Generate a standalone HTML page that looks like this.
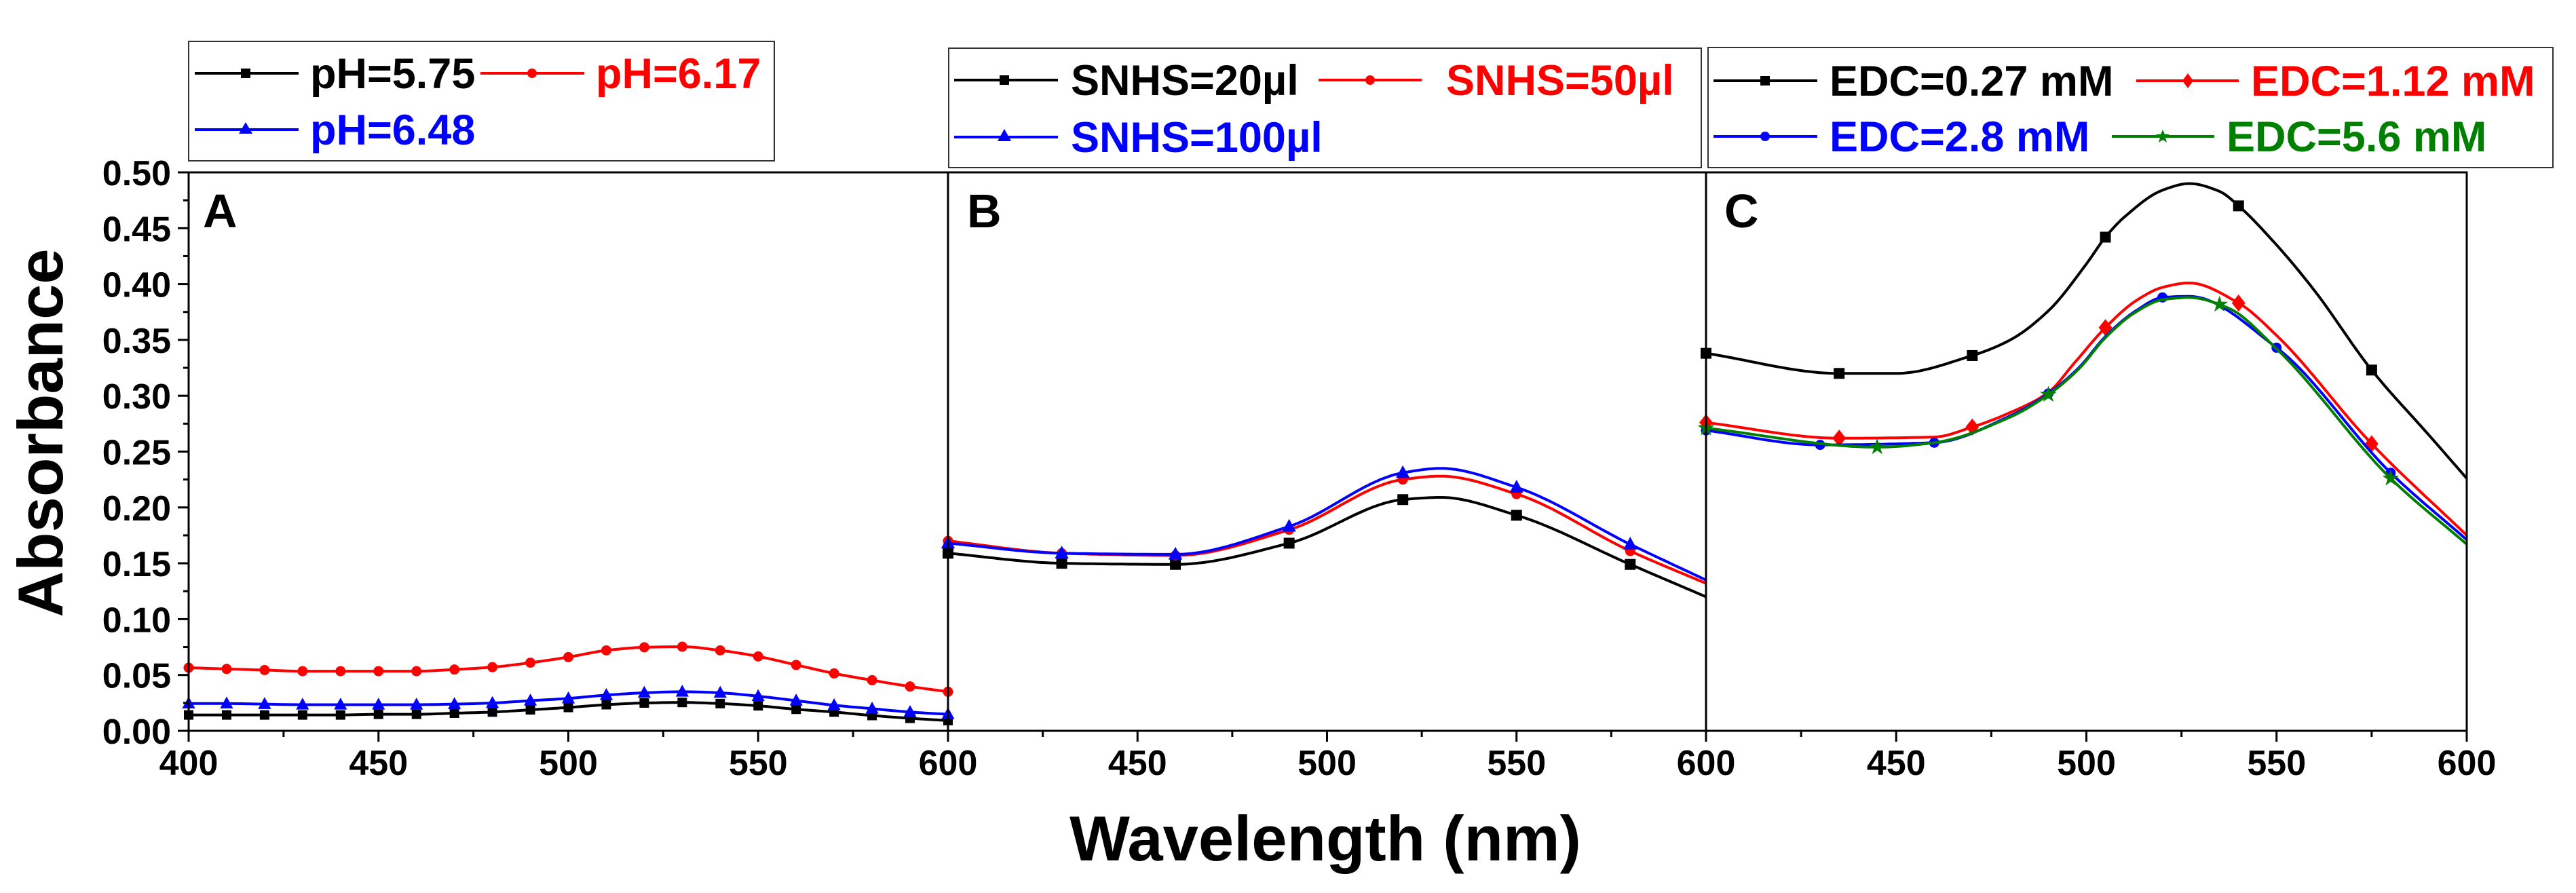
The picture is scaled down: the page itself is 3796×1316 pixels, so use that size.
<!DOCTYPE html>
<html><head><meta charset="utf-8"><style>
html,body{margin:0;padding:0;background:#fff}
svg{display:block}
text{font-family:"Liberation Sans",Arial,sans-serif;font-weight:bold}
</style></head>
<body>
<svg id="chart" width="3796" height="1316" viewBox="0 0 3796 1316" xmlns="http://www.w3.org/2000/svg">
<g id="root"></g>
</svg>
<script>
// ---------- data ----------
const xTicks = [400, 450, 500, 550, 600];
const yTicks = [0.00, 0.05, 0.10, 0.15, 0.20, 0.25, 0.30, 0.35, 0.40, 0.45, 0.50];
const yTickLabels = ["0.00","0.05","0.10","0.15","0.20","0.25","0.30","0.35","0.40","0.45","0.50"];

// Panel A (every 10 nm, 400..600)
const aWave = [400,410,420,430,440,450,460,470,480,490,500,510,520,530,540,550,560,570,580,590,600];
const aPH575 = [0.0142,0.0142,0.0142,0.0142,0.0142,0.0148,0.0148,0.0158,0.0168,0.0188,0.0209,0.0234,0.0249,0.0254,0.0244,0.0224,0.0193,0.0168,0.0137,0.0112,0.0092];
const aPH617 = [0.0565,0.0554,0.0544,0.0534,0.0534,0.0534,0.0534,0.0549,0.0570,0.0610,0.0660,0.0720,0.0748,0.0753,0.0720,0.0666,0.0590,0.0514,0.0453,0.0397,0.0350];
const aPH648 = [0.0244,0.0244,0.0239,0.0234,0.0234,0.0234,0.0234,0.0239,0.0249,0.0270,0.0290,0.0320,0.0340,0.0350,0.0340,0.0310,0.0270,0.0229,0.0198,0.0168,0.0148];

// Panel B
const bWave = [400,430,460,490,520,530,550,580,600];
const bSnhs20 = [0.159,0.150,0.149,0.168,0.207,0.209,0.193,0.149,0.120];
const bSnhs50 = [0.170,0.159,0.157,0.180,0.225,0.228,0.212,0.161,0.132];
const bSnhs100 = [0.168,0.159,0.158,0.183,0.231,0.235,0.218,0.167,0.135];
const bMarkWave = [400,430,460,490,520,550,580];

// Panel C
const cWaveBlack = [400,435,450,470,480,490,500,505,510,520,527,535,540,550,560,575,590,600];
const cEdc027 = [0.338,0.320,0.320,0.336,0.350,0.376,0.418,0.442,0.460,0.484,0.490,0.483,0.470,0.435,0.394,0.323,0.265,0.226];
const cWaveRed = [400,435,460,470,480,490,497,505,513,520,527,540,550,575,600];
const cEdc112 = [0.276,0.262,0.263,0.272,0.285,0.303,0.330,0.361,0.385,0.397,0.401,0.383,0.354,0.257,0.175];
const cWaveBlue = [400,430,460,480,490,498,505,513,520,527,550,580,600];
const cEdc28 = [0.269,0.256,0.258,0.282,0.302,0.325,0.353,0.376,0.388,0.389,0.343,0.231,0.171];
const cWaveGreen = [400,445,460,480,490,498,505,513,520,527,537,550,580,600];
const cEdc56 = [0.271,0.254,0.258,0.281,0.301,0.324,0.352,0.375,0.386,0.388,0.379,0.342,0.226,0.167];
const cMarkBlack = [400,435,470,505,540,575];
const cMarkRed = [400,435,470,505,540,575];
const cMarkBlue = [400,430,460,490,520,550,580];
const cMarkGreen = [400,445,490,535,580];

// ---------- layout ----------
const NS = "http://www.w3.org/2000/svg";
const root = document.getElementById('root');
const TOP = 254, BOT = 1077;
const panels = [{l:278,r:1397},{l:1397,r:2514},{l:2514,r:3635}];
function sx(p, v){ return p.l + (v-400)/200*(p.r-p.l); }
function sy(v){ return BOT - v/0.5*(BOT-TOP); }
function mk(tag, attrs, parent){ const e=document.createElementNS(NS,tag); for(const k in attrs) e.setAttribute(k,attrs[k]); (parent||root).appendChild(e); return e; }

// monotone-ish cubic (Fritsch-Carlson tangents) for smooth curves through points
function interp(xs, ys, x){
  const n=xs.length;
  let i=0; while(i<n-2 && x>xs[i+1]) i++;
  function slope(k){
    if(k===0) return (ys[1]-ys[0])/(xs[1]-xs[0]);
    if(k===n-1) return (ys[n-1]-ys[n-2])/(xs[n-1]-xs[n-2]);
    const d0=(ys[k]-ys[k-1])/(xs[k]-xs[k-1]), d1=(ys[k+1]-ys[k])/(xs[k+1]-xs[k]);
    if(d0*d1<=0) return 0;
    const w0=2*(xs[k+1]-xs[k])+(xs[k]-xs[k-1]), w1=(xs[k+1]-xs[k])+2*(xs[k]-xs[k-1]);
    return (w0+w1)/(w0/d0+w1/d1);
  }
  const h=xs[i+1]-xs[i], t=(x-xs[i])/h, t2=t*t, t3=t2*t;
  const m1=slope(i)*h, m2=slope(i+1)*h;
  return (2*t3-3*t2+1)*ys[i]+(t3-2*t2+t)*m1+(-2*t3+3*t2)*ys[i+1]+(t3-t2)*m2;
}
function curve(p, xs, ys, color, name){
  let d='';
  for(let x=400;x<=600;x+=1){ const px=sx(p,x), py=sy(interp(xs,ys,x)); d+=(x===400?'M':'L')+px.toFixed(1)+' '+py.toFixed(1); }
  const e=mk('path',{d:d,fill:'none',stroke:color,'stroke-width':4,'stroke-linejoin':'round'});
  
  
}
function marker(shape, cx, cy, color, sz, parent){
  let e;
  if(shape==='square') e=mk('rect',{x:cx-sz/2,y:cy-sz/2,width:sz,height:sz,fill:color},parent);
  else if(shape==='circle') e=mk('circle',{cx:cx,cy:cy,r:sz/2,fill:color},parent);
  else if(shape==='triangle') e=mk('polygon',{points:`${cx},${cy-sz*0.65} ${cx-sz*0.6},${cy+sz*0.45} ${cx+sz*0.6},${cy+sz*0.45}`,fill:color},parent);
  else if(shape==='diamond') e=mk('polygon',{points:`${cx},${cy-sz*0.7} ${cx+sz*0.55},${cy} ${cx},${cy+sz*0.7} ${cx-sz*0.55},${cy}`,fill:color},parent);
  else if(shape==='star'){ let pts=''; for(let k=0;k<10;k++){const r=k%2?sz*0.25:sz*0.65; const a=-Math.PI/2+k*Math.PI/5; pts+=(cx+r*Math.cos(a)).toFixed(1)+','+(cy+r*Math.sin(a)).toFixed(1)+' ';} e=mk('polygon',{points:pts,fill:color},parent); }
  
  
  return e;
}
function markers(p, xs, ys, mx, shape, color, sz){
  mx.forEach(x=>marker(shape, sx(p,x), sy(interp(xs,ys,x)), color, sz));
}

// ---------- series ----------
const PA=panels[0], PB=panels[1], PC=panels[2];
curve(PA,aWave,aPH575,'#000','series-ph-5-75'); markers(PA,aWave,aPH575,aWave,'square','#000',14);
curve(PA,aWave,aPH648,'#0000ff','series-ph-6-48'); markers(PA,aWave,aPH648,aWave,'triangle','#0000ff',16);
curve(PA,aWave,aPH617,'#ff0000','series-ph-6-17'); markers(PA,aWave,aPH617,aWave,'circle','#ff0000',15);

curve(PB,bWave,bSnhs20,'#000','series-snhs-20'); markers(PB,bWave,bSnhs20,bMarkWave,'square','#000',16);
curve(PB,bWave,bSnhs50,'#ff0000','series-snhs-50'); markers(PB,bWave,bSnhs50,bMarkWave,'circle','#ff0000',15);
curve(PB,bWave,bSnhs100,'#0000ff','series-snhs-100'); markers(PB,bWave,bSnhs100,bMarkWave,'triangle','#0000ff',17);

curve(PC,cWaveBlack,cEdc027,'#000','series-edc-0-27'); markers(PC,cWaveBlack,cEdc027,cMarkBlack,'square','#000',16);
curve(PC,cWaveRed,cEdc112,'#ff0000','series-edc-1-12'); markers(PC,cWaveRed,cEdc112,cMarkRed,'diamond','#ff0000',18);
curve(PC,cWaveBlue,cEdc28,'#0000ff','series-edc-2-8'); markers(PC,cWaveBlue,cEdc28,cMarkBlue,'circle','#0000ff',15);
curve(PC,cWaveGreen,cEdc56,'#008000','series-edc-5-6'); markers(PC,cWaveGreen,cEdc56,cMarkGreen,'star','#008000',20);

// ---------- axes / frames ----------
panels.forEach((p,i)=>{
  const f=mk('rect',{x:p.l,y:TOP,width:p.r-p.l,height:BOT-TOP,fill:'none',stroke:'#000','stroke-width':3});
  
  
  for(let v=400;v<=600;v+=25){
    const major=v%50===0;
    const t=mk('line',{x1:sx(p,v),x2:sx(p,v),y1:BOT,y2:BOT+(major?16:9),stroke:'#000','stroke-width':3});
    
    
  }
  xTicks.forEach(v=>{
    if(i>0 && v===400) return;
    const t=mk('text',{x:sx(p,v),y:1142,'font-size':52,'text-anchor':'middle',fill:'#000'});
    t.textContent=String(v);
    
    
  });
});
// y ticks (panel A)
for(let k=0;k<=20;k++){
  const v=k*0.025, major=k%2===0;
  const t=mk('line',{x1:PA.l-(major?16:8),x2:PA.l,y1:sy(v),y2:sy(v),stroke:'#000','stroke-width':3});
  
  
}
yTicks.forEach((v,i)=>{
  const t=mk('text',{x:252,y:sy(v)+19,'font-size':52,'text-anchor':'end',fill:'#000'});
  t.textContent=yTickLabels[i];
  
  
});
</script>

<svg style="position:absolute;left:0;top:0" width="3796" height="1316" viewBox="0 0 3796 1316" xmlns="http://www.w3.org/2000/svg">
  <text x="299" y="335" font-size="70" fill="#000">A</text>
  <text x="1425" y="335" font-size="70" fill="#000">B</text>
  <text x="2541" y="335" font-size="70" fill="#000">C</text>
  <text transform="translate(92,638) rotate(-90)" font-size="94" text-anchor="middle" fill="#000">Absorbance</text>
  <text x="1953" y="1268" font-size="94" text-anchor="middle" fill="#000">Wavelength (nm)</text>

  <g>
    <rect x="278" y="61" width="863" height="176" fill="#fff" stroke="#333" stroke-width="2"/>
    <line x1="287" y1="108" x2="440" y2="108" stroke="#000" stroke-width="4"/><rect x="355" y="101" width="14" height="14" fill="#000"/>
    <text x="457" y="130" font-size="63" fill="#000">pH=5.75</text>
    <line x1="708" y1="108" x2="861" y2="108" stroke="#f00" stroke-width="4"/><circle cx="784" cy="108" r="7" fill="#f00"/>
    <text x="878" y="130" font-size="63" fill="#f00">pH=6.17</text>
    <line x1="287" y1="191" x2="440" y2="191" stroke="#00f" stroke-width="4"/><polygon points="362,180 352,197 372,197" fill="#00f"/>
    <text x="457" y="213" font-size="63" fill="#00f">pH=6.48</text>
  </g>
  <g>
    <rect x="1398" y="71" width="1109" height="176" fill="#fff" stroke="#333" stroke-width="2"/>
    <line x1="1406" y1="118" x2="1559" y2="118" stroke="#000" stroke-width="4"/><rect x="1473" y="111" width="14" height="14" fill="#000"/>
    <text x="1578" y="140" font-size="63" fill="#000">SNHS=20µl</text>
    <line x1="1943" y1="118" x2="2095" y2="118" stroke="#f00" stroke-width="4"/><circle cx="2019" cy="118" r="7" fill="#f00"/>
    <text x="2131" y="140" font-size="63" fill="#f00">SNHS=50µl</text>
    <line x1="1406" y1="202" x2="1559" y2="202" stroke="#00f" stroke-width="4"/><polygon points="1480,190 1470,208 1490,208" fill="#00f"/>
    <text x="1578" y="224" font-size="63" fill="#00f">SNHS=100µl</text>
  </g>
  <g>
    <rect x="2517" y="70" width="1245" height="177" fill="#fff" stroke="#333" stroke-width="2"/>
    <line x1="2525" y1="119" x2="2678" y2="119" stroke="#000" stroke-width="4"/><rect x="2594" y="112" width="14" height="14" fill="#000"/>
    <text x="2696" y="141" font-size="63" fill="#000">EDC=0.27 mM</text>
    <line x1="3148" y1="119" x2="3299" y2="119" stroke="#f00" stroke-width="4"/><polygon points="3224,108 3232,119 3224,130 3216,119" fill="#f00"/>
    <text x="3317" y="141" font-size="63" fill="#f00">EDC=1.12 mM</text>
    <line x1="2525" y1="201" x2="2678" y2="201" stroke="#00f" stroke-width="4"/><circle cx="2601" cy="201" r="7" fill="#00f"/>
    <text x="2696" y="223" font-size="63" fill="#00f">EDC=2.8 mM</text>
    <line x1="3112" y1="201" x2="3263" y2="201" stroke="#008000" stroke-width="4"/><polygon points="3187,191 3190,198 3197,198 3191,203 3193,210 3187,206 3181,210 3183,203 3177,198 3184,198" fill="#008000"/>
    <text x="3281" y="223" font-size="63" fill="#008000">EDC=5.6 mM</text>
  </g>
</svg>
</body></html>
